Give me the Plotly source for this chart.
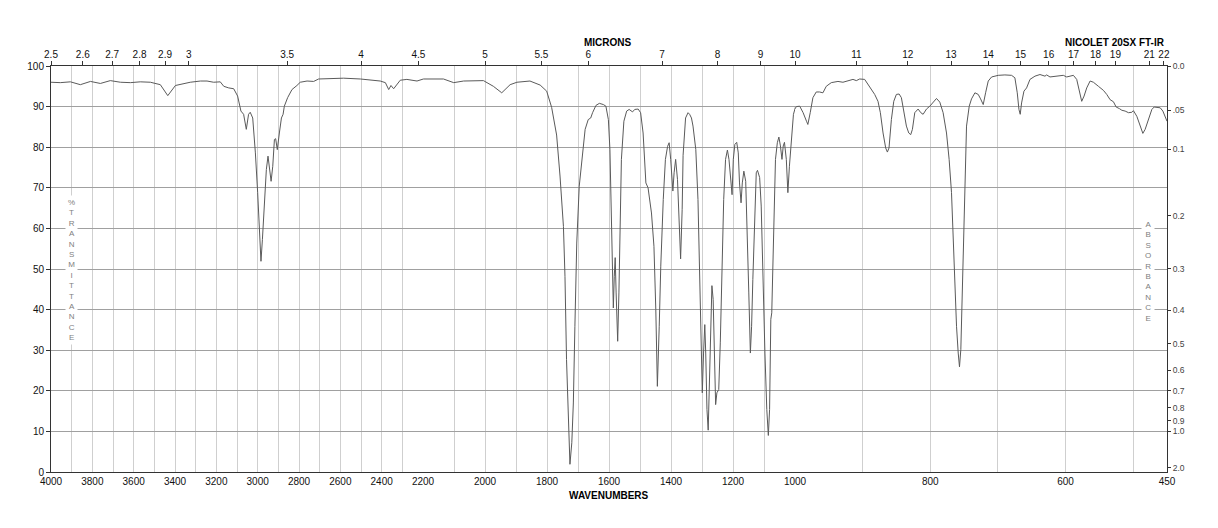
import plotly.graph_objects as go

# ---------------- data ----------------
wavenumber = [
    4000, 3955, 3906, 3858, 3809, 3761, 3713, 3664, 3616, 3568, 3519, 3471, 3435, 3398, 3326,
    3277, 3245, 3213, 3181, 3164, 3140, 3116, 3097, 3081, 3068, 3055, 3044, 3036, 3024, 3011,
    3000, 2990, 2984, 2977, 2968, 2958, 2950, 2942, 2935, 2927, 2919, 2913, 2905, 2895, 2885,
    2877, 2871, 2855, 2834, 2810, 2794, 2761, 2729, 2705, 2632, 2584, 2503, 2455, 2407, 2382,
    2366, 2355, 2342, 2310, 2278, 2229, 2198, 2134, 2101, 2069, 2005, 1973, 1946, 1919, 1897,
    1855, 1822, 1801, 1785, 1769, 1758, 1747, 1742, 1737, 1731, 1726, 1720, 1715, 1710, 1704,
    1696, 1688, 1677, 1667, 1659, 1653, 1642, 1631, 1618, 1610, 1602, 1597, 1592, 1586, 1583,
    1580, 1577, 1572, 1568, 1564, 1560, 1552, 1543, 1535, 1524, 1517, 1506, 1498, 1490, 1481,
    1474, 1463, 1455, 1449, 1444, 1438, 1433, 1425, 1418, 1411, 1406, 1401, 1394, 1390, 1385,
    1379, 1374, 1369, 1364, 1361, 1353, 1345, 1340, 1334, 1329, 1320, 1313, 1307, 1302, 1299,
    1295, 1291, 1288, 1284, 1280, 1275, 1271, 1268, 1264, 1260, 1256, 1252, 1246, 1241, 1236,
    1230, 1224, 1218, 1213, 1208, 1203, 1199, 1194, 1188, 1183, 1179, 1174, 1170, 1165, 1159,
    1154, 1149, 1144, 1140, 1136, 1130, 1125, 1121, 1114, 1109, 1104, 1097, 1091, 1086, 1082,
    1078, 1075, 1071, 1067, 1063, 1057, 1052, 1047, 1042, 1038, 1034, 1028, 1023, 1018, 1012,
    1005, 998, 993, 988, 983, 981, 977.5, 973.5, 968.6, 963.7, 958.7, 953.8, 946.4, 936.5, 929.1,
    921.7, 914.3, 909.3, 904.4, 897.0, 889.6, 882.2, 877.3, 873.8, 869.8, 865.9, 863.4, 861.0,
    857.5, 854.0, 850.1, 846.1, 842.7, 839.2, 835.3, 831.8, 828.9, 826.4, 822.9, 818.0, 814.0,
    810.6, 805.6, 800.7, 795.8, 790.8, 785.9, 781.0, 776.0, 772.1, 768.6, 766.1, 763.7, 761.2,
    758.7, 756.8, 754.8, 752.8, 750.8, 748.8, 746.4, 742.4, 739.0, 734.0, 729.1, 725.6, 721.7,
    718.2, 714.3, 709.3, 704.4, 699.5, 689.7, 679.8, 674.9, 671.4, 668.9, 667.0, 665.0, 661.5,
    657.6, 652.6, 645.2, 637.8, 630.4, 627.9, 623.0, 613.1, 603.3, 598.3, 593.4, 588.4, 583.5,
    579.6, 576.1, 572.6, 568.7, 563.7, 558.8, 551.4, 544.0, 539.1, 534.1, 529.2, 525.2, 520.3,
    516.8, 511.9, 506.9, 502.0, 499.6, 494.6, 489.7, 485.7, 482.3, 477.3, 472.4, 468.9, 464.0,
    460.0, 456.1, 452.6, 450.0,
]
transmittance = [
    96.0, 95.9, 96.1, 95.4, 96.2, 95.7, 96.4, 96.0, 95.9, 96.1, 96.0, 95.4, 92.7, 95.2, 96.0,
    96.3, 96.3, 96.0, 96.1, 95.0, 94.6, 94.4, 92.6, 88.9, 88.1, 84.4, 88.1, 88.6, 87.2, 78.6,
    68.8, 57.3, 51.9, 57.3, 67.1, 74.5, 77.8, 73.7, 71.6, 75.3, 81.9, 82.1, 79.4, 83.5, 87.2,
    88.1, 90.1, 92.2, 94.2, 95.2, 96.0, 96.3, 96.2, 96.8, 96.9, 97.0, 96.8, 96.5, 96.3, 95.9,
    94.2, 95.2, 94.4, 96.5, 96.7, 96.3, 96.8, 96.8, 95.9, 96.3, 96.4, 95.0, 93.4, 95.4, 96.0,
    96.3, 95.3, 93.8, 89.8, 83.0, 72.9, 60.5, 48.2, 27.7, 11.3, 1.9, 7.2, 17.0, 35.9, 56.4,
    70.4, 77.0, 84.4, 86.8, 87.2, 88.5, 90.3, 90.8, 90.5, 90.1, 86.8, 79.4, 60.5, 40.4, 48.2,
    52.8, 44.1, 32.2, 44.1, 64.7, 77.0, 86.4, 88.9, 89.3, 88.7, 89.3, 89.4, 88.5, 83.5, 71.2,
    70.0, 63.8, 55.6, 40.0, 21.1, 35.9, 50.7, 67.1, 77.0, 80.2, 81.1, 77.0, 69.2, 73.7, 77.0,
    72.0, 63.0, 52.5, 64.7, 78.0, 87.2, 88.5, 88.1, 87.2, 85.2, 79.4, 67.1, 44.1, 27.7, 19.5,
    29.3, 36.3, 29.3, 15.4, 10.3, 23.6, 39.2, 45.9, 42.5, 29.3, 16.6, 19.5, 20.3, 31.8, 52.3,
    67.1, 77.0, 79.3, 77.0, 72.0, 68.3, 77.0, 80.7, 81.2, 78.6, 71.2, 66.3, 71.2, 74.1, 71.6,
    60.5, 44.1, 29.3, 35.9, 47.4, 64.7, 73.7, 74.3, 72.5, 65.5, 48.2, 29.3, 15.4, 9.0, 15.4,
    37.6, 39.2, 52.3, 68.8, 77.0, 81.1, 82.5, 80.3, 77.0, 80.3, 81.2, 77.0, 68.8, 75.3, 81.9,
    88.1, 90.0, 90.1, 88.5, 86.4, 85.6, 88.5, 92.2, 93.6, 93.6, 93.4, 95.0, 95.9, 96.2, 96.0,
    96.4, 96.7, 96.4, 96.8, 96.7, 95.0, 93.0, 91.3, 88.5, 83.5, 79.8, 78.8, 79.8,
    86.8, 91.3, 93.0, 93.1, 92.2, 89.3, 85.2, 83.5, 83.1, 84.4, 88.5, 89.4, 88.5,
    88.1, 89.4, 90.1, 91.1, 92.0, 91.1, 88.5, 83.5, 77.0, 68.8, 58.1, 45.8, 35.9,
    29.3, 25.9, 30.2, 44.1, 60.5, 74.5, 85.2, 90.1, 91.9, 93.4, 93.0, 91.9, 90.5,
    93.4, 96.3, 97.3, 97.5, 97.7, 97.8, 97.7, 97.1, 93.4, 89.3, 88.1, 90.9, 93.8,
    94.6, 96.7, 97.5, 97.9, 97.5, 97.8, 97.3, 97.5, 97.7, 97.3, 97.5, 97.7, 96.7,
    93.4, 91.3, 92.6, 94.6, 96.3, 96.0, 95.0, 94.0, 93.0, 91.7, 91.2, 89.9, 89.5,
    89.1, 88.9, 88.5, 88.6, 89.0, 87.6, 85.2, 83.4, 84.4, 86.8, 89.3, 89.9, 89.7,
    89.7, 88.9, 87.6, 86.4,
]

# three equal-width panels, each linear in wavenumber
segments = [(4000, 2200), (2200, 1000), (1000, 450)]
wn_grid = [list(range(4000, 2199, -100)), list(range(2200, 999, -100)), list(range(1000, 449, -100)) + [450]]
wn_labels = [
    [4000, 3800, 3600, 3400, 3200, 3000, 2800, 2600, 2400, 2200],
    [2000, 1800, 1600, 1400, 1200, 1000],
    [800, 600, 450],
]
micron_labels = [2.5, 2.6, 2.7, 2.8, 2.9, 3, 3.5, 4, 4.5, 5, 5.5, 6, 7, 8, 9, 10,
                 11, 12, 13, 14, 15, 16, 17, 18, 19, 21, 22]
absorbance_vals = [0.0, 0.05, 0.1, 0.2, 0.3, 0.4, 0.5, 0.6, 0.7, 0.8, 0.9, 1.0, 2.0]
absorbance_text = ["0.0", ".05", "0.1", "0.2", "0.3", "0.4", "0.5", "0.6", "0.7", "0.8", "0.9", "1.0", "2.0"]

FONT = "Liberation Sans, Arial, Helvetica, sans-serif"
LINE = "#5a5a5a"
AXIS = "#333333"
VGRID = "#cfcfcf"
HGRID = "#a0a0a0"

fig = go.Figure()
layout = {}
for i, (hi, lo) in enumerate(segments):
    n = i + 1
    xa = "x" if n == 1 else f"x{n}"
    fig.add_trace(go.Scatter(x=wavenumber, y=transmittance, mode="lines",
                             line=dict(color=LINE, width=1), xaxis=xa, yaxis="y",
                             showlegend=False, hoverinfo="skip"))
    key = "xaxis" if n == 1 else f"xaxis{n}"
    layout[key] = dict(
        domain=[i / 3, (i + 1) / 3], range=[hi, lo], anchor="y",
        tickmode="array", tickvals=wn_grid[i],
        ticktext=[str(v) if v in wn_labels[i] else "" for v in wn_grid[i]],
        showgrid=True, gridcolor=VGRID, gridwidth=1, zeroline=False,
        showline=True, linecolor=AXIS, linewidth=1, ticks="",
        tickfont=dict(size=10, color="#111", family=FONT),
    )
    # top micron axis (an empty trace makes Plotly draw it)
    mic = [m for m in micron_labels if (lo < 10000 / m <= hi)]
    tn = n + 3
    fig.add_trace(go.Scatter(x=[], y=[], xaxis=f"x{tn}", yaxis="y",
                             showlegend=False, hoverinfo="skip"))
    layout[f"xaxis{tn}"] = dict(
        overlaying=xa, side="top", anchor="y", range=[hi, lo],
        tickmode="array", tickvals=[10000 / m for m in mic],
        ticktext=[("%g" % m) for m in mic],
        showgrid=False, zeroline=False, showline=True, linecolor=AXIS, linewidth=1,
        ticks="outside", ticklen=4, tickcolor=AXIS, ticklabelstandoff=-1,
        tickfont=dict(size=10, color="#111", family=FONT),
    )

fig.add_trace(go.Scatter(x=[], y=[], xaxis="x3", yaxis="y2",
                         showlegend=False, hoverinfo="skip"))

layout["yaxis"] = dict(
    domain=[0, 1], range=[0, 100], anchor="x", tickmode="linear", tick0=0, dtick=10,
    showgrid=True, gridcolor=HGRID, gridwidth=1, zeroline=False,
    showline=True, linecolor=AXIS, linewidth=1, ticks="outside", ticklen=4, tickcolor=AXIS,
    tickfont=dict(size=10, color="#111", family=FONT),
)
layout["yaxis2"] = dict(
    overlaying="y", side="right", anchor="x3", range=[0, 100],
    tickmode="array", tickvals=[100 * 10 ** (-a) for a in absorbance_vals], ticktext=absorbance_text,
    showgrid=False, zeroline=False, showline=True, linecolor=AXIS, linewidth=1,
    ticks="outside", ticklen=3, tickcolor=AXIS,
    tickfont=dict(size=8.5, color="#444", family=FONT),
)

annotations = [
    dict(text="<b>MICRONS</b>", xref="paper", yref="paper", x=0.499, y=1.057,
         yanchor="middle", showarrow=False, font=dict(size=10, color="#000", family=FONT)),
    dict(text="<b>NICOLET 20SX FT-IR</b>", xref="paper", yref="paper", x=1.0, y=1.057,
         xanchor="right", yanchor="middle", showarrow=False,
         font=dict(size=10, color="#000", family=FONT)),
    dict(text="<b>WAVENUMBERS</b>", xref="paper", yref="paper", x=0.5, y=-0.057,
         yanchor="middle", showarrow=False, font=dict(size=10, color="#000", family=FONT)),
    dict(text="<br>".join(list("%TRANSMITTANCE")), xref="x", yref="y", x=3900, y=49.8,
         showarrow=False, bgcolor="white", borderpad=2,
         font=dict(size=8, color="#808080", family=FONT)),
    dict(text="<br>".join(list("ABSORBANCE")), xref="x3", yref="y", x=478, y=49.3,
         showarrow=False, bgcolor="white", borderpad=3,
         font=dict(size=8, color="#808080", family=FONT)),
]

fig.update_layout(
    width=1218, height=528, autosize=False,
    margin=dict(l=51, r=51, t=66, b=56, pad=0),
    paper_bgcolor="white", plot_bgcolor="white",
    font=dict(family=FONT, size=10, color="#111"),
    annotations=annotations, showlegend=False,
    **layout,
)

fig.write_html("out.html")
